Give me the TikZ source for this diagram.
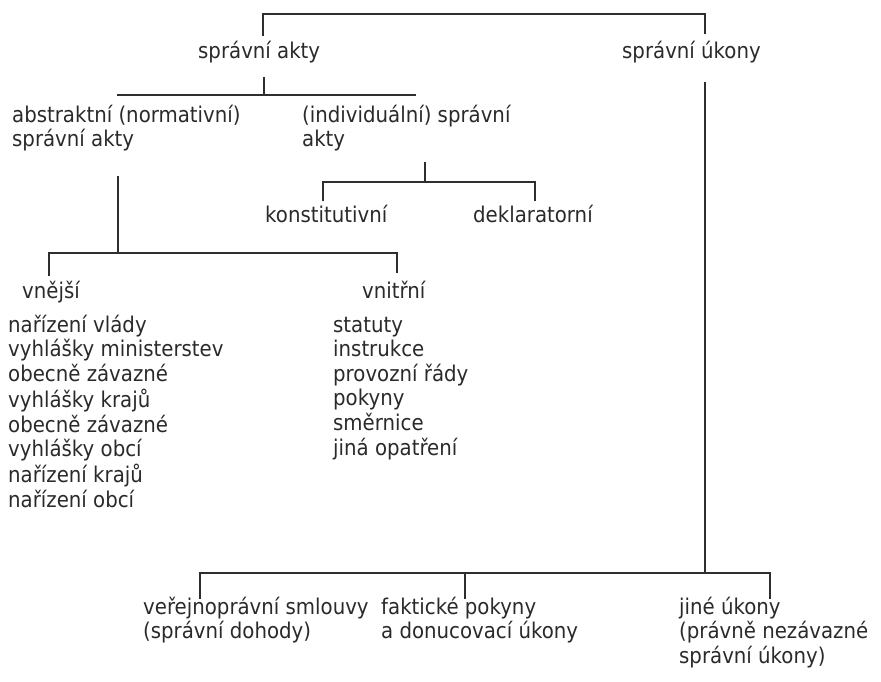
\documentclass[tikz,border=0pt]{standalone}
\usepackage{fontspec}
\setmainfont{DejaVu Sans}[FakeStretch=0.91]
\definecolor{txt}{HTML}{2A2A2A}
\definecolor{ln}{HTML}{2E2E2E}
\newcommand{\mlines}[1]{\begin{tabular}[t]{@{}l@{}}#1\end{tabular}}
\begin{document}
\begin{tikzpicture}[x=1pt,y=-1pt,
  lbl/.style={anchor=base west, inner sep=0pt, font=\fontsize{21.7}{24.6}\selectfont, text=txt},
  conn/.style={line width=1.8pt, draw=ln, line cap=rect}]
\fill[white] (0,0) rectangle (881,681);
\useasboundingbox (0,0) rectangle (881,681);

\node[lbl] (sa) at (198,58) {správní akty};
\node[lbl] (su) at (622,58) {správní úkony};
\node[lbl] (abs) at (12,122) {\mlines{abstraktní (normativní)\\správní akty}};
\node[lbl] (ind) at (302,122) {\mlines{(individuální) správní\\akty}};
\node[lbl] (kon) at (265,222) {konstitutivní};
\node[lbl] (dek) at (473,222) {deklaratorní};
\node[lbl] (vne) at (22,298) {vnější};
\node[lbl] (vni) at (362,298) {vnitřní};
\node[lbl] (lstA) at (8,332) {\mlines{nařízení vlády\\vyhlášky ministerstev\\obecně závazné\\vyhlášky krajů\\obecně závazné\\vyhlášky obcí\\nařízení krajů\\nařízení obcí}};
\node[lbl] (lstB) at (333,332) {\mlines{statuty\\instrukce\\provozní řády\\pokyny\\směrnice\\jiná opatření}};
\node[lbl] (ver) at (143,614) {\mlines{veřejnoprávní smlouvy\\(správní dohody)}};
\node[lbl] (fak) at (381,614) {\mlines{faktické pokyny\\a donucovací úkony}};
\node[lbl] (jin) at (679,614) {\mlines{jiné úkony\\(právně nezávazné\\správní úkony)}};

% connector end points
\coordinate (saTop) at (263,35);
\coordinate (suTop) at (705,33);
\coordinate (saBot) at (264,78);
\coordinate (absL) at (118,95);
\coordinate (indR) at (415,95);
\coordinate (indBot) at (425,163);
\coordinate (konTop) at (323,200);
\coordinate (dekTop) at (535,200);
\coordinate (absBot) at (118,177);
\coordinate (vneTop) at (49,275);
\coordinate (vniTop) at (397,272);
\coordinate (suBot) at (705,83);
\coordinate (verTop) at (200,598);
\coordinate (fakTop) at (465,598);
\coordinate (jinTop) at (770,598);

\draw[conn] (saTop) |- (suTop |- 0,14) -- (suTop);
\draw[conn] (saBot) -- (saBot |- absL);
\draw[conn] (absL) -- (indR);
\draw[conn] (indBot) -- (indBot |- 0,182);
\draw[conn] (konTop) |- (dekTop |- 0,182) -- (dekTop);
\draw[conn] (absBot) -- (absBot |- 0,253);
\draw[conn] (vneTop) |- (vniTop |- 0,253) -- (vniTop);
\draw[conn] (suBot) -- (suBot |- 0,573);
\draw[conn] (verTop) |- (jinTop |- 0,573) -- (jinTop);
\draw[conn] (fakTop) -- (fakTop |- 0,573);
\end{tikzpicture}
\end{document}
